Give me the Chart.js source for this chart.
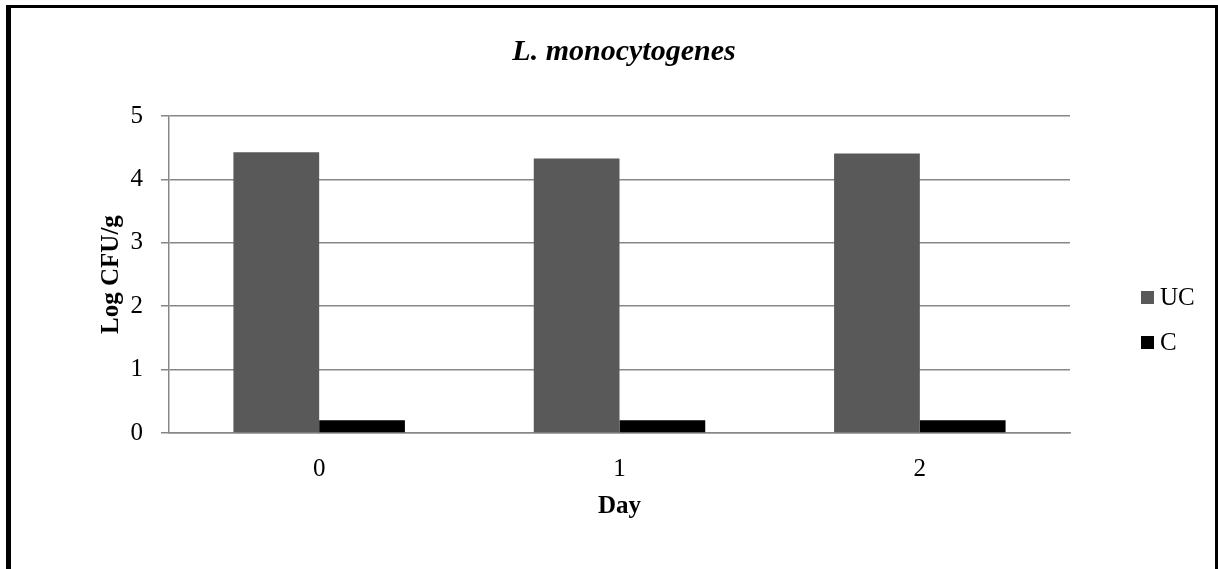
<!DOCTYPE html>
<html>
<head>
<meta charset="utf-8">
<script src="https://cdn.jsdelivr.net/npm/chart.js@4"></script>
<style>
html,body{margin:0;padding:0;background:#fff;}
#wrap{position:relative;width:1218px;height:569px;}
canvas{display:block;}
</style>
</head>
<body>
<div id="wrap"><canvas id="c" width="1218" height="569"></canvas></div>
<script>
const chartTitle = "L. monocytogenes";
const categories = ["0", "1", "2"];
const seriesNames = ["UC", "C"];
const ucValues = [4.43, 4.33, 4.41];
const cValues = [0.2, 0.2, 0.2];
const yTicks = [0, 1, 2, 3, 4, 5];
const xAxisTitle = "Day";
const yAxisTitle = "Log CFU/g";

const SERIF = "'Liberation Serif', 'Times New Roman', serif";
const colors = ["#595959", "#000000"];

const borderPlugin = {
  id: 'frame',
  afterDraw(chart) {
    const ctx = chart.ctx;
    ctx.save();
    ctx.fillStyle = '#000';
    ctx.fillRect(6, 5, 5, 564);
    ctx.fillRect(6, 5, 1212, 3);
    ctx.fillRect(1215, 5, 3, 564);
    ctx.restore();
  }
};

const legendPlugin = {
  id: 'customLegend',
  afterDraw(chart) {
    const ctx = chart.ctx;
    ctx.save();
    ctx.font = "25px " + SERIF;
    ctx.textBaseline = 'middle';
    ctx.textAlign = 'left';
    const tops = [291, 336];
    chart.data.datasets.forEach((ds, i) => {
      const y = tops[i];
      ctx.fillStyle = ds.backgroundColor;
      ctx.fillRect(1141, y, 13, 13);
      ctx.fillStyle = '#000';
      ctx.fillText(ds.label, 1160, y + 7);
    });
    ctx.restore();
  }
};

const titlePlugin = {
  id: 'customTitle',
  afterDraw(chart) {
    const ctx = chart.ctx;
    ctx.save();
    ctx.font = "italic bold 30px " + SERIF;
    ctx.textBaseline = 'middle';
    ctx.textAlign = 'center';
    ctx.fillStyle = '#000';
    ctx.fillText(chartTitle, 624, 52);
    ctx.restore();
  }
};

new Chart(document.getElementById('c'), {
  type: 'bar',
  data: {
    labels: categories,
    datasets: [
      { label: seriesNames[0], data: ucValues, backgroundColor: colors[0], borderWidth: 0 },
      { label: seriesNames[1], data: cValues, backgroundColor: colors[1], borderWidth: 0 }
    ]
  },
  options: {
    responsive: false,
    animation: false,
    events: [],
    layout: { padding: { left: 0, right: 148, top: 116, bottom: 0 } },
    categoryPercentage: 0.571,
    barPercentage: 1.0,
    plugins: {
      legend: { display: false },
      title: { display: false },
      tooltip: { enabled: false }
    },
    scales: {
      x: {
        grid: { display: false, drawTicks: false },
        border: { display: true, color: '#878787', width: 1.5 },
        ticks: { color: '#000', font: { family: SERIF, size: 25 }, padding: 21 },
        title: { display: true, text: xAxisTitle, color: '#000', font: { family: SERIF, size: 25, weight: 'bold' }, padding: { top: 0, bottom: 47 } },
        afterFit(scale) { scale.height = 569 - 433; }
      },
      y: {
        min: 0, max: 5,
        afterBuildTicks(scale) { scale.ticks = yTicks.map(v => ({ value: v })); },
        grid: { color: '#878787', lineWidth: 1.5, drawTicks: true, tickLength: 8, tickColor: '#878787' },
        border: { display: true, color: '#878787', width: 1.5 },
        ticks: { color: '#000', font: { family: SERIF, size: 25 }, padding: 18 },
        title: { display: true, text: yAxisTitle, color: '#000', font: { family: SERIF, size: 25, weight: 'bold' }, padding: { top: 97, bottom: 0 } },
        afterFit(scale) { scale.width = 169; }
      }
    }
  },
  plugins: [titlePlugin, legendPlugin, borderPlugin]
});
</script>
</body>
</html>
